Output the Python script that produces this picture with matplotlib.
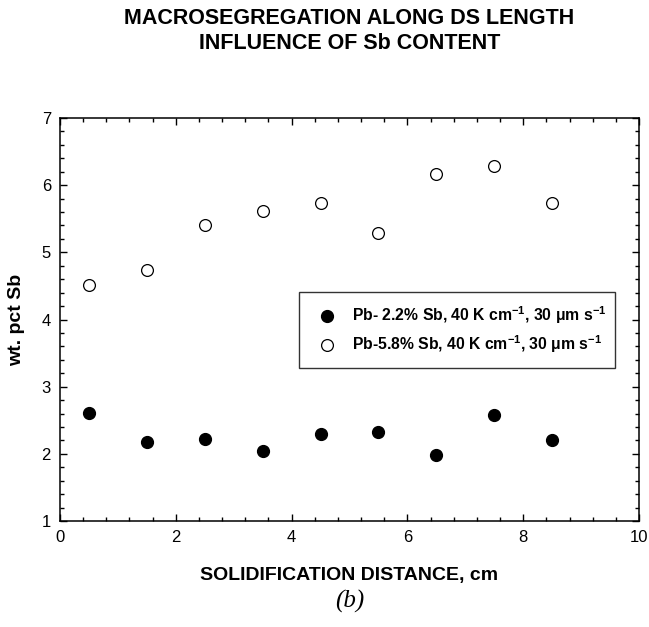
import matplotlib
matplotlib.use("Agg")
import matplotlib.pyplot as plt
from matplotlib.ticker import MultipleLocator

plt.rcParams['font.family'] = ['Liberation Sans', 'DejaVu Sans']
plt.rcParams['mathtext.fontset'] = 'custom'
plt.rcParams['mathtext.rm'] = 'Liberation Sans:bold'
plt.rcParams['mathtext.bf'] = 'Liberation Sans:bold'
plt.rcParams['mathtext.it'] = 'Liberation Sans:bold'

distance = [0.5, 1.5, 2.5, 3.5, 4.5, 5.5, 6.5, 7.5, 8.5]
sb_22 = [2.61, 2.18, 2.22, 2.04, 2.30, 2.32, 1.99, 2.58, 2.20]
sb_58 = [4.52, 4.74, 5.40, 5.62, 5.73, 5.29, 6.17, 6.28, 5.73]
label_22 = r'Pb- 2.2% Sb, 40 K cm$^{-1}$, 30 μm s$^{-1}$'
label_58 = r'Pb-5.8% Sb, 40 K cm$^{-1}$, 30 μm s$^{-1}$'
xticks = [0, 2, 4, 6, 8, 10]
yticks = [1, 2, 3, 4, 5, 6, 7]

fig = plt.figure(figsize=(6.49, 6.27), dpi=100)
ax = fig.add_axes([60/649, 1-521/627, 579/649, 403/627])

ax.plot(distance, sb_22, linestyle='none', marker='o', markersize=8.5,
        markerfacecolor='black', markeredgecolor='black', label=label_22)
ax.plot(distance, sb_58, linestyle='none', marker='o', markersize=8.5,
        markerfacecolor='white', markeredgecolor='black', markeredgewidth=0.9, label=label_58)

ax.set_xlim(0, 10)
ax.set_ylim(1, 7)
ax.set_xticks(xticks)
ax.set_yticks(yticks)
ax.xaxis.set_minor_locator(MultipleLocator(0.4))
ax.yaxis.set_minor_locator(MultipleLocator(0.2))
ax.tick_params(which='both', direction='in', top=True, right=True, labelsize=12, width=1)
ax.tick_params(which='major', length=5, pad=6.5)
ax.tick_params(which='minor', length=3)
for s in ax.spines.values():
    s.set_linewidth(1.1)

ax.set_xlabel('SOLIDIFICATION DISTANCE, cm', fontsize=14, fontweight='bold', labelpad=16)
ax.set_ylabel('wt. pct Sb', fontsize=14, fontweight='bold', labelpad=12)

fig.text(349.5/649, 1-31/627, 'MACROSEGREGATION ALONG DS LENGTH\nINFLUENCE OF Sb CONTENT',
         ha='center', va='center', fontsize=15.5, fontweight='bold', linespacing=1.25)

leg = ax.legend(loc='upper left', bbox_to_anchor=(0.413, 0.568, 0.546, 0.0), mode='expand',
                borderaxespad=0, frameon=True, fancybox=False, edgecolor='black',
                borderpad=0.8, prop={'weight': 'bold', 'size': 11.3},
                handletextpad=0.68, labelspacing=0.45, handlelength=1.9)
leg.get_frame().set_linewidth(1.0)

fig.text(349.5/649, 1-601/627, '(b)', ha='center', va='center', fontsize=18,
         family='Liberation Serif', style='italic')

fig.savefig('out.png', dpi=100)
